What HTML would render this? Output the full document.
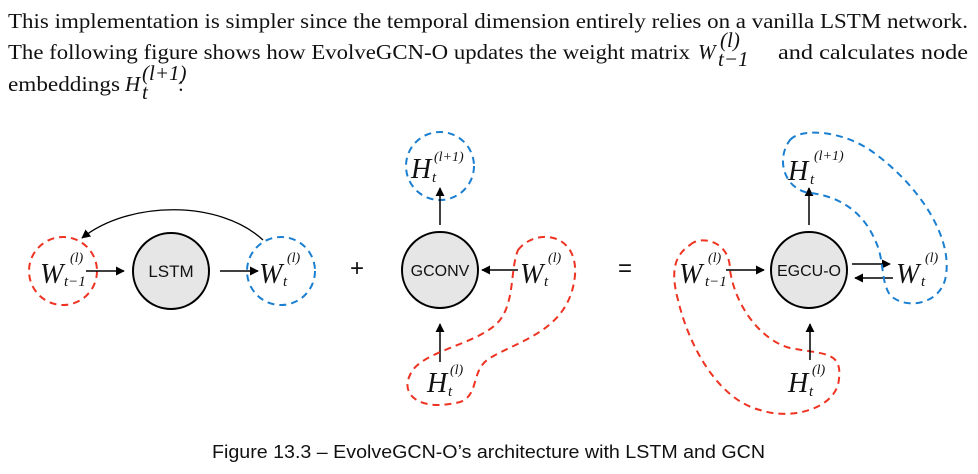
<!DOCTYPE html>
<html><head><meta charset="utf-8"><style>
html,body{margin:0;padding:0;background:#fff;}
svg{display:block;}
.m{font-family:"Liberation Serif",serif;font-style:italic;fill:#111;}
.s{font-family:"Liberation Sans",sans-serif;fill:#111;}
.t{font-family:"Liberation Serif",serif;fill:#111;font-size:21px;}
</style></head><body>
<svg width="978" height="474" viewBox="0 0 978 474">
<defs><marker id="ah" viewBox="0 0 10 10" refX="9" refY="5" markerWidth="9" markerHeight="9" markerUnits="userSpaceOnUse" orient="auto"><path d="M0,0L10,5L0,10z" fill="#000"/></marker></defs>
<g>
<text class="t" x="8" y="28" textLength="960" lengthAdjust="spacingAndGlyphs">This implementation is simpler since the temporal dimension entirely relies on a vanilla LSTM network.</text>
<text class="t" x="8" y="59" textLength="682" lengthAdjust="spacingAndGlyphs">The following figure shows how EvolveGCN-O updates the weight matrix</text>
<text class="t" x="698" y="59" font-style="italic">W</text><text class="t" x="720" y="47" font-size="15" font-style="italic">(l)</text><text class="t" x="718" y="66" font-size="15" font-style="italic">t−1</text>
<text class="t" x="778" y="59" textLength="190" lengthAdjust="spacingAndGlyphs">and calculates node</text>
<text class="t" x="8" y="91" textLength="112" lengthAdjust="spacingAndGlyphs">embeddings</text>
<text class="t" x="125" y="91" font-style="italic">H</text><text class="t" x="142" y="80" font-size="15" font-style="italic">(l+1)</text><text class="t" x="142" y="99" font-size="15" font-style="italic">t</text><text class="t" x="178" y="91">:</text>
</g>
<g>
<circle cx="63" cy="271" r="34" fill="none" stroke="#e32" stroke-width="2" stroke-dasharray="7,5"/>
<text class="m" x="40" y="283" font-size="28">W</text><text class="m" x="70" y="262" font-size="14">(l)</text><text class="m" x="64" y="286" font-size="15">t−1</text>
<line x1="86" y1="271" x2="124" y2="271" stroke="#000" stroke-width="1.5" marker-end="url(#ah)"/>
<circle cx="171" cy="271" r="38" fill="#e6e6e6" stroke="#000" stroke-width="2"/>
<text class="s" x="171" y="277" font-size="17" text-anchor="middle">LSTM</text>
<line x1="220" y1="271" x2="258" y2="271" stroke="#000" stroke-width="1.5" marker-end="url(#ah)"/>
<circle cx="281" cy="271" r="34" fill="none" stroke="#1a7fd0" stroke-width="2" stroke-dasharray="7,5"/>
<text class="m" x="259" y="283" font-size="28">W</text><text class="m" x="287" y="262" font-size="14">(l)</text><text class="m" x="283" y="286" font-size="15">t</text>
<path d="M263,240 C220,200 130,200 82,238" fill="none" stroke="#000" stroke-width="1.3" marker-end="url(#ah)"/>
<text class="s" x="357" y="276" font-size="24" text-anchor="middle">+</text>
</g>
<g>
<circle cx="440" cy="166" r="34" fill="none" stroke="#1a7fd0" stroke-width="2" stroke-dasharray="7,5"/>
<text class="m" x="411" y="178" font-size="28">H</text><text class="m" x="434" y="161" font-size="14">(l+1)</text><text class="m" x="432" y="182" font-size="15">t</text>
<line x1="440" y1="225" x2="440" y2="188" stroke="#000" stroke-width="1.5" marker-end="url(#ah)"/>
<circle cx="440" cy="270" r="38" fill="#e6e6e6" stroke="#000" stroke-width="2"/>
<text class="s" x="440" y="276" font-size="16" text-anchor="middle">GCONV</text>
<line x1="518" y1="270" x2="482" y2="270" stroke="#000" stroke-width="1.5" marker-end="url(#ah)"/>
<text class="m" x="520" y="283" font-size="28">W</text><text class="m" x="548" y="262" font-size="14">(l)</text><text class="m" x="544" y="286" font-size="15">t</text>
<line x1="440" y1="362" x2="440" y2="324" stroke="#000" stroke-width="1.5" marker-end="url(#ah)"/>
<text class="m" x="427" y="392" font-size="28">H</text><text class="m" x="450" y="374" font-size="14">(l)</text><text class="m" x="448" y="396" font-size="15">t</text>
<path d="M518,250 C535,228 578,232 575,275 C570,330 520,340 490,358 C470,370 480,395 460,402 C420,412 400,395 410,375 C420,350 480,345 500,320 C515,300 510,270 518,250 Z" fill="none" stroke="#e32" stroke-width="2" stroke-dasharray="7,5"/>
<text class="s" x="625" y="276" font-size="24" text-anchor="middle">=</text>
</g>
<g>
<path d="M690,245 C700,235 730,240 730,270 C735,305 760,340 790,348 C825,355 845,350 838,385 C830,410 790,420 760,410 C720,400 690,350 678,300 C670,270 675,255 690,245 Z" fill="none" stroke="#e32" stroke-width="2" stroke-dasharray="7,5"/>
<text class="m" x="679" y="283" font-size="28">W</text><text class="m" x="708" y="262" font-size="14">(l)</text><text class="m" x="705" y="286" font-size="15">t−1</text>
<line x1="726" y1="270" x2="764" y2="270" stroke="#000" stroke-width="1.5" marker-end="url(#ah)"/>
<circle cx="809" cy="270" r="38" fill="#e6e6e6" stroke="#000" stroke-width="2"/>
<text class="s" x="809" y="276" font-size="16" text-anchor="middle">EGCU-O</text>
<line x1="852" y1="264" x2="890" y2="264" stroke="#000" stroke-width="1.5" marker-end="url(#ah)"/>
<line x1="893" y1="278" x2="855" y2="278" stroke="#000" stroke-width="1.5" marker-end="url(#ah)"/>
<text class="m" x="896" y="283" font-size="28">W</text><text class="m" x="925" y="262" font-size="14">(l)</text><text class="m" x="921" y="286" font-size="15">t</text>
<line x1="809" y1="225" x2="809" y2="188" stroke="#000" stroke-width="1.5" marker-end="url(#ah)"/>
<text class="m" x="788" y="180" font-size="28">H</text><text class="m" x="814" y="160" font-size="14">(l+1)</text><text class="m" x="810" y="184" font-size="15">t</text>
<path d="M790,140 C800,128 840,130 870,150 C920,185 955,240 945,280 C938,305 905,310 890,295 C880,280 885,260 875,240 C860,205 830,195 810,193 C785,190 775,160 790,140 Z" fill="none" stroke="#1a7fd0" stroke-width="2" stroke-dasharray="7,5"/>
<line x1="810" y1="360" x2="810" y2="324" stroke="#000" stroke-width="1.5" marker-end="url(#ah)"/>
<text class="m" x="788" y="392" font-size="28">H</text><text class="m" x="812" y="374" font-size="14">(l)</text><text class="m" x="809" y="396" font-size="15">t</text>
</g>
<text class="s" x="212" y="458" font-size="18" textLength="553" lengthAdjust="spacingAndGlyphs">Figure 13.3 – EvolveGCN-O’s architecture with LSTM and GCN</text>
</svg>
</body></html>
